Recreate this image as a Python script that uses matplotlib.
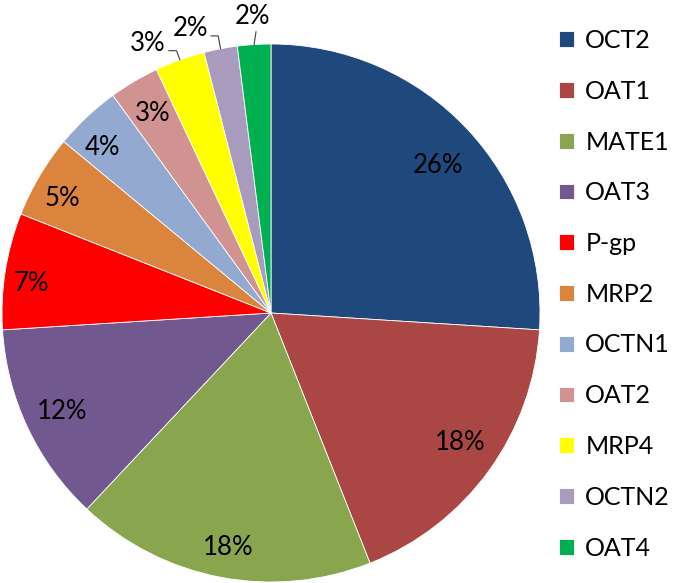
import matplotlib.pyplot as plt
import numpy as np

plt.rcParams['font.family'] = ['Lato', 'DejaVu Sans']

labels = ['OCT2', 'OAT1', 'MATE1', 'OAT3', 'P-gp', 'MRP2',
          'OCTN1', 'OAT2', 'MRP4', 'OCTN2', 'OAT4']
shares = [26, 18, 18, 12, 7, 5, 4, 3, 3, 2, 2]
colors = ['#1F497D', '#AA4643', '#89A54E', '#71588F', '#FF0000', '#DB843D',
          '#93A9CF', '#D19392', '#FFFF00', '#A99BBD', '#00B050']

# where each percentage label sits (data units, pie radius = 1)
label_pos = {'OCT2': (0.62, 0.55), 'OAT1': (0.705, -0.48), 'MATE1': (-0.16, -0.87),
             'OAT3': (-0.775, -0.365), 'P-gp': (-0.89, 0.11), 'MRP2': (-0.775, 0.425),
             'OCTN1': (-0.625, 0.615), 'OAT2': (-0.44, 0.74),
             'MRP4': (-0.457, 1.003), 'OCTN2': (-0.30, 1.058), 'OAT4': (-0.07, 1.103)}
with_leader = ['MRP4', 'OCTN2', 'OAT4']

fig = plt.figure(figsize=(6.77, 5.83), dpi=100)
W, H = 677, 583
cx, cy, r = 271, 313, 269
ax = fig.add_axes([(cx - r) / W, (H - cy - r) / H, 2 * r / W, 2 * r / H])

wedges, _ = ax.pie(shares, colors=colors, startangle=90, counterclock=False,
                   radius=1, wedgeprops=dict(edgecolor='white', linewidth=0.6))
ax.set_xlim(-1, 1)
ax.set_ylim(-1, 1)
ax.set_aspect('equal')
ax.axis('off')

fs = 18.5
total = sum(shares)
for w, lab, v in zip(wedges, labels, shares):
    mid = np.deg2rad((w.theta1 + w.theta2) / 2)
    txt = f'{round(100 * v / total)}%'
    tx, ty = label_pos[lab]
    if lab in with_leader:
        if lab == 'OAT4':
            cs = 'arc3'
            rel = (0.62, 0.0)
        else:
            cs = f'angle,angleA=0,angleB={np.rad2deg(mid):.1f},rad=0'
            rel = (1.0, 0.2)
        ax.annotate(txt, xy=(np.cos(mid), np.sin(mid)), xytext=(tx, ty),
                    ha='center', va='center', fontsize=fs, color='black',
                    annotation_clip=False,
                    arrowprops=dict(arrowstyle='-', color='#404040', lw=0.8,
                                    connectionstyle=cs, relpos=rel,
                                    shrinkA=0, shrinkB=0))
    else:
        ax.text(tx, ty, txt, ha='center', va='center', fontsize=fs, color='black')

leg = fig.legend(wedges, labels, loc='upper left', bbox_to_anchor=(559 / W, 1 - 29 / H),
                 frameon=False, fontsize=18, handlelength=0.6, handleheight=0.6,
                 handletextpad=0.45, labelspacing=1.11, borderaxespad=0,
                 borderpad=0)

fig.savefig('out.png', dpi=100)
